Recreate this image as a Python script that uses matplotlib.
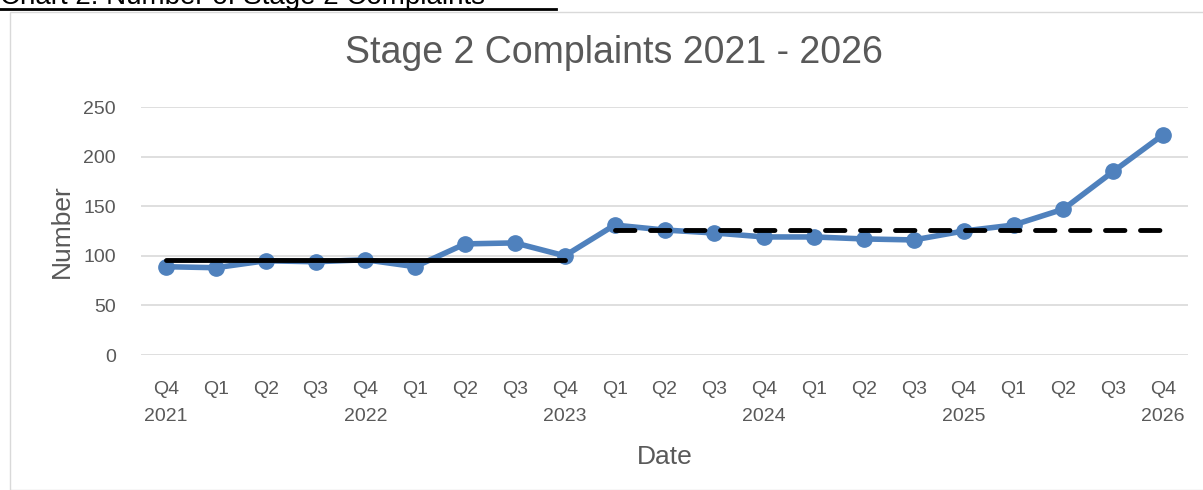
import numpy as np
import matplotlib.pyplot as plt
from matplotlib import font_manager
from matplotlib.patches import Rectangle
from matplotlib.lines import Line2D

quarters = ['Q4', 'Q1', 'Q2', 'Q3', 'Q4', 'Q1', 'Q2', 'Q3', 'Q4', 'Q1', 'Q2',
            'Q3', 'Q4', 'Q1', 'Q2', 'Q3', 'Q4', 'Q1', 'Q2', 'Q3', 'Q4']
years = ['2021', '', '', '', '2022', '', '', '', '2023', '', '', '',
         '2024', '', '', '', '2025', '', '', '', '2026']
complaints = [89, 88, 95, 94, 96, 89, 112, 113, 100, 131, 126,
              123, 119, 119, 117, 116, 125, 131, 147, 185, 222]
mean_before = 96   # solid black, Q4 2021 - Q4 2023
mean_after = 126   # dashed black, Q1 2023 onwards
before_idx = (0, 8)
after_idx = (9, 20)

blue = '#4f81bd'
grid = '#d9d9d9'
txt = '#595959'

# tick labels in the original are Calibri; use a narrow face if there is one
try:
    font_manager.findfont('Liberation Sans Narrow', fallback_to_default=False)
    tick_font, tick_size = 'Liberation Sans Narrow', 16
except Exception:
    tick_font, tick_size = 'Liberation Sans', 14

fig = plt.figure(figsize=(12.03, 4.9), dpi=100)

# chart frame
fig.patches.append(Rectangle((10/1203, 0), 1.0, 1 - 12/490, transform=fig.transFigure,
                             fill=False, edgecolor='#d9d9d9', linewidth=1))

# clipped heading above chart
fig.text(0.0, 1 - 4/490, 'Chart 2: Number of Stage 2 Complaints', fontsize=20,
         family='Liberation Sans', color='black', va='baseline', ha='left')
fig.add_artist(Line2D([0, 556/1203], [1 - 9/490, 1 - 9/490], transform=fig.transFigure,
                      color='black', linewidth=2))

ax = fig.add_axes([141/1203, 1 - 355/490, (1188 - 141)/1203, (355 - 107)/490])
x = np.arange(len(complaints))

ax.plot(x, complaints, color=blue, linewidth=4, marker='o', markersize=11,
        clip_on=False, zorder=3)
ax.plot(list(before_idx), [mean_before, mean_before], color='black', linewidth=3.5,
        solid_capstyle='round', zorder=4)
ax.plot(list(after_idx), [mean_after, mean_after], color='black', linewidth=3.5,
        linestyle=(0, (4, 3.2)), dash_capstyle='round', zorder=4)

ax.set_xlim(-0.5, len(complaints) - 0.5)
ax.set_ylim(0, 250)
ax.set_yticks(range(0, 251, 50))
ax.yaxis.grid(True, color=grid, linewidth=1.2)
ax.set_axisbelow(True)
for s in ax.spines.values():
    s.set_visible(False)
ax.tick_params(length=0, colors=txt)

ax.set_xticks(x)
ax.set_xticklabels([q + '\n' + y for q, y in zip(quarters, years)],
                   family=tick_font, fontsize=tick_size, linespacing=1.75, va='top')
for lab in ax.get_yticklabels():
    lab.set_family(tick_font)
    lab.set_fontsize(tick_size)
ax.tick_params(axis='x', pad=19)
ax.tick_params(axis='y', pad=18)

# title is centred on the chart area, not on the plot area
fig.text(614/1203, 1 - 53/490, 'Stage 2 Complaints 2021 - 2026', fontsize=27, color=txt,
         family='Liberation Sans', ha='center', va='center')
ax.set_xlabel('Date', fontsize=19, color=txt, family='Liberation Sans', labelpad=14)
ax.set_ylabel('Number', fontsize=19, color=txt, family='Liberation Sans', labelpad=7)

fig.savefig('out.png', dpi=100)
